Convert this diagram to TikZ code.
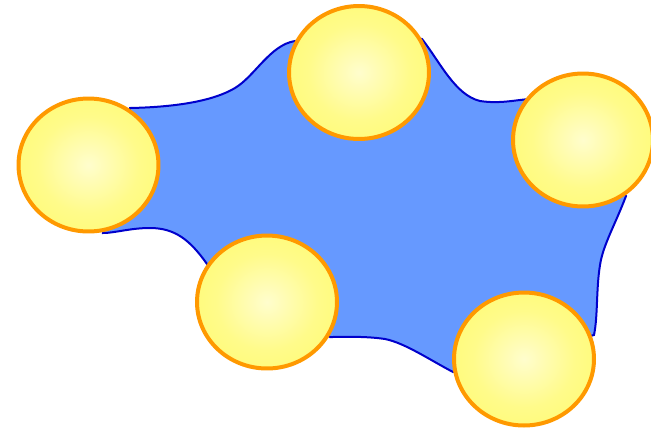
\documentclass[tikz,border=0pt]{standalone}
\usetikzlibrary{shapes.geometric}
\definecolor{blobfill}{RGB}{102,153,255}
\definecolor{blobline}{RGB}{0,0,204}
\definecolor{ballrim}{RGB}{255,153,0}
\definecolor{ballc}{RGB}{255,253,205}
\definecolor{ballm}{RGB}{255,250,110}
\definecolor{balle}{RGB}{255,216,66}
\pgfdeclareradialshading{ballshade}{\pgfpoint{0bp}{0bp}}{color(0bp)=(ballc); color(18bp)=(ballm!70!ballc); color(34bp)=(ballm); color(50bp)=(balle); color(100bp)=(balle)}
\tikzset{
  ball/.style={ellipse, draw=ballrim, line width=0.08cm, shading=ballshade,
    minimum width=2.8cm, minimum height=2.66cm, inner sep=0pt, outer sep=0pt},
  blob/.style={fill=blobfill, draw=blobline, line width=0.04cm}
}
\begin{document}
\begin{tikzpicture}[x=0.02cm, y=-0.02cm]
\useasboundingbox (0,0) rectangle (651,430);
\fill[white] (0,0) rectangle (651,430);
% blob
\draw[blob] (130,108) .. controls (180,107) and (215,100) .. (235,88)
  .. controls (255,76) and (270,45) .. (295,41)
  -- (360,30) -- (422,39)
  .. controls (440,62) and (455,95) .. (480,101)
  .. controls (500,104) and (515,100) .. (530,99)
  -- (626,196)
  .. controls (615,225) and (603,245) .. (600,265)
  .. controls (596,290) and (598,315) .. (594,335)
  -- (453,372)
  .. controls (430,360) and (405,343) .. (385,339)
  .. controls (365,336) and (345,337) .. (330,337)
  -- (207,264)
  .. controls (190,240) and (175,228) .. (150,228)
  .. controls (130,228) and (115,233) .. (103,233)
  -- cycle;
% balls
\node[ball] (b1) at (88.5,165) {};
\node[ball] (b2) at (359,72.5) {};
\node[ball] (b3) at (583,140) {};
\node[ball] (b4) at (267,302) {};
\node[ball] (b5) at (524,359) {};
\end{tikzpicture}
\end{document}
